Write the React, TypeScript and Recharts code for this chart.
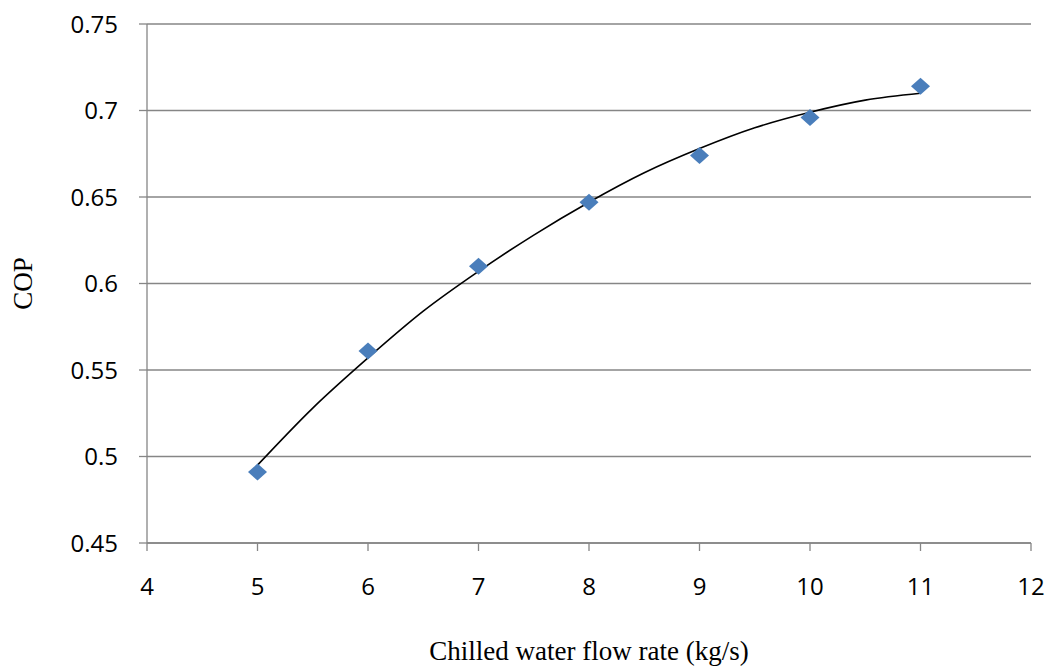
import React from 'react';
import { ComposedChart, XAxis, YAxis, CartesianGrid, Line, Scatter } from 'recharts';

const flowRates = [5, 6, 7, 8, 9, 10, 11];
const copValues = [0.491, 0.561, 0.61, 0.647, 0.674, 0.696, 0.714];

const trendX = [5, 5.5, 6, 6.5, 7, 7.5, 8, 8.5, 9, 9.5, 10, 10.5, 11];
const trendY = [0.495, 0.528, 0.557, 0.584, 0.607, 0.628, 0.647, 0.664, 0.678, 0.69, 0.699, 0.706, 0.71];

const xTicks = [4, 5, 6, 7, 8, 9, 10, 11, 12];
const yTicks = [0.45, 0.5, 0.55, 0.6, 0.65, 0.7, 0.75];

const points = flowRates.map((x, i) => ({ x, y: copValues[i] }));
const trend = trendX.map((x, i) => ({ x, y: trendY[i] }));

const Diamond = (props: any) => {
  const { cx, cy } = props;
  if (cx == null || cy == null) return null;
  const w = 9.5;
  const h = 8.5;
  return (
    <polygon
      points={`${cx},${cy - h} ${cx + w},${cy} ${cx},${cy + h} ${cx - w},${cy}`}
      fill="#4A7EBB"
    />
  );
};

const gray = '#868686';
const tickStyle = { fill: '#000', fontSize: 24, fontFamily: '"Open Sans", sans-serif' };
const titleFont = '"Liberation Serif", "Times New Roman", serif';

export default function App() {
  return (
    <div style={{ position: 'absolute', left: 0, top: 0, background: '#fff' }}>
      <ComposedChart width={1052} height={668} margin={{ top: 24, right: 21, left: 0, bottom: 0 }}>
        <CartesianGrid horizontal={true} vertical={false} stroke={gray} strokeWidth={1.3} />
        <XAxis
          type="number"
          dataKey="x"
          domain={[4, 12]}
          ticks={xTicks}
          height={125}
          tickSize={8}
          tickMargin={27}
          axisLine={{ stroke: gray, strokeWidth: 1.3 }}
          tickLine={{ stroke: gray, strokeWidth: 1.3 }}
          tick={tickStyle}
          allowDataOverflow
          label={{
            value: 'Chilled water flow rate (kg/s)',
            position: 'insideBottom',
            offset: 8,
            style: { fill: '#000', fontSize: 27, fontFamily: titleFont },
          }}
        />
        <YAxis
          type="number"
          dataKey="y"
          domain={[0.45, 0.75]}
          ticks={yTicks}
          width={147}
          tickSize={8}
          tickMargin={21}
          axisLine={{ stroke: gray, strokeWidth: 1.3 }}
          tickLine={{ stroke: gray, strokeWidth: 1.3 }}
          tick={tickStyle}
          tickFormatter={(v: number) => String(v)}
          allowDataOverflow
          label={{
            value: 'COP',
            angle: -90,
            position: 'insideLeft',
            offset: 22,
            style: { fill: '#000', fontSize: 27, textAnchor: 'middle', fontFamily: titleFont },
          }}
        />
        <Scatter data={points} dataKey="y" shape={Diamond} isAnimationActive={false} />
        <Line
          data={trend}
          dataKey="y"
          type="monotone"
          stroke="#000"
          strokeWidth={1.6}
          dot={false}
          activeDot={false}
          isAnimationActive={false}
        />
      </ComposedChart>
    </div>
  );
}
